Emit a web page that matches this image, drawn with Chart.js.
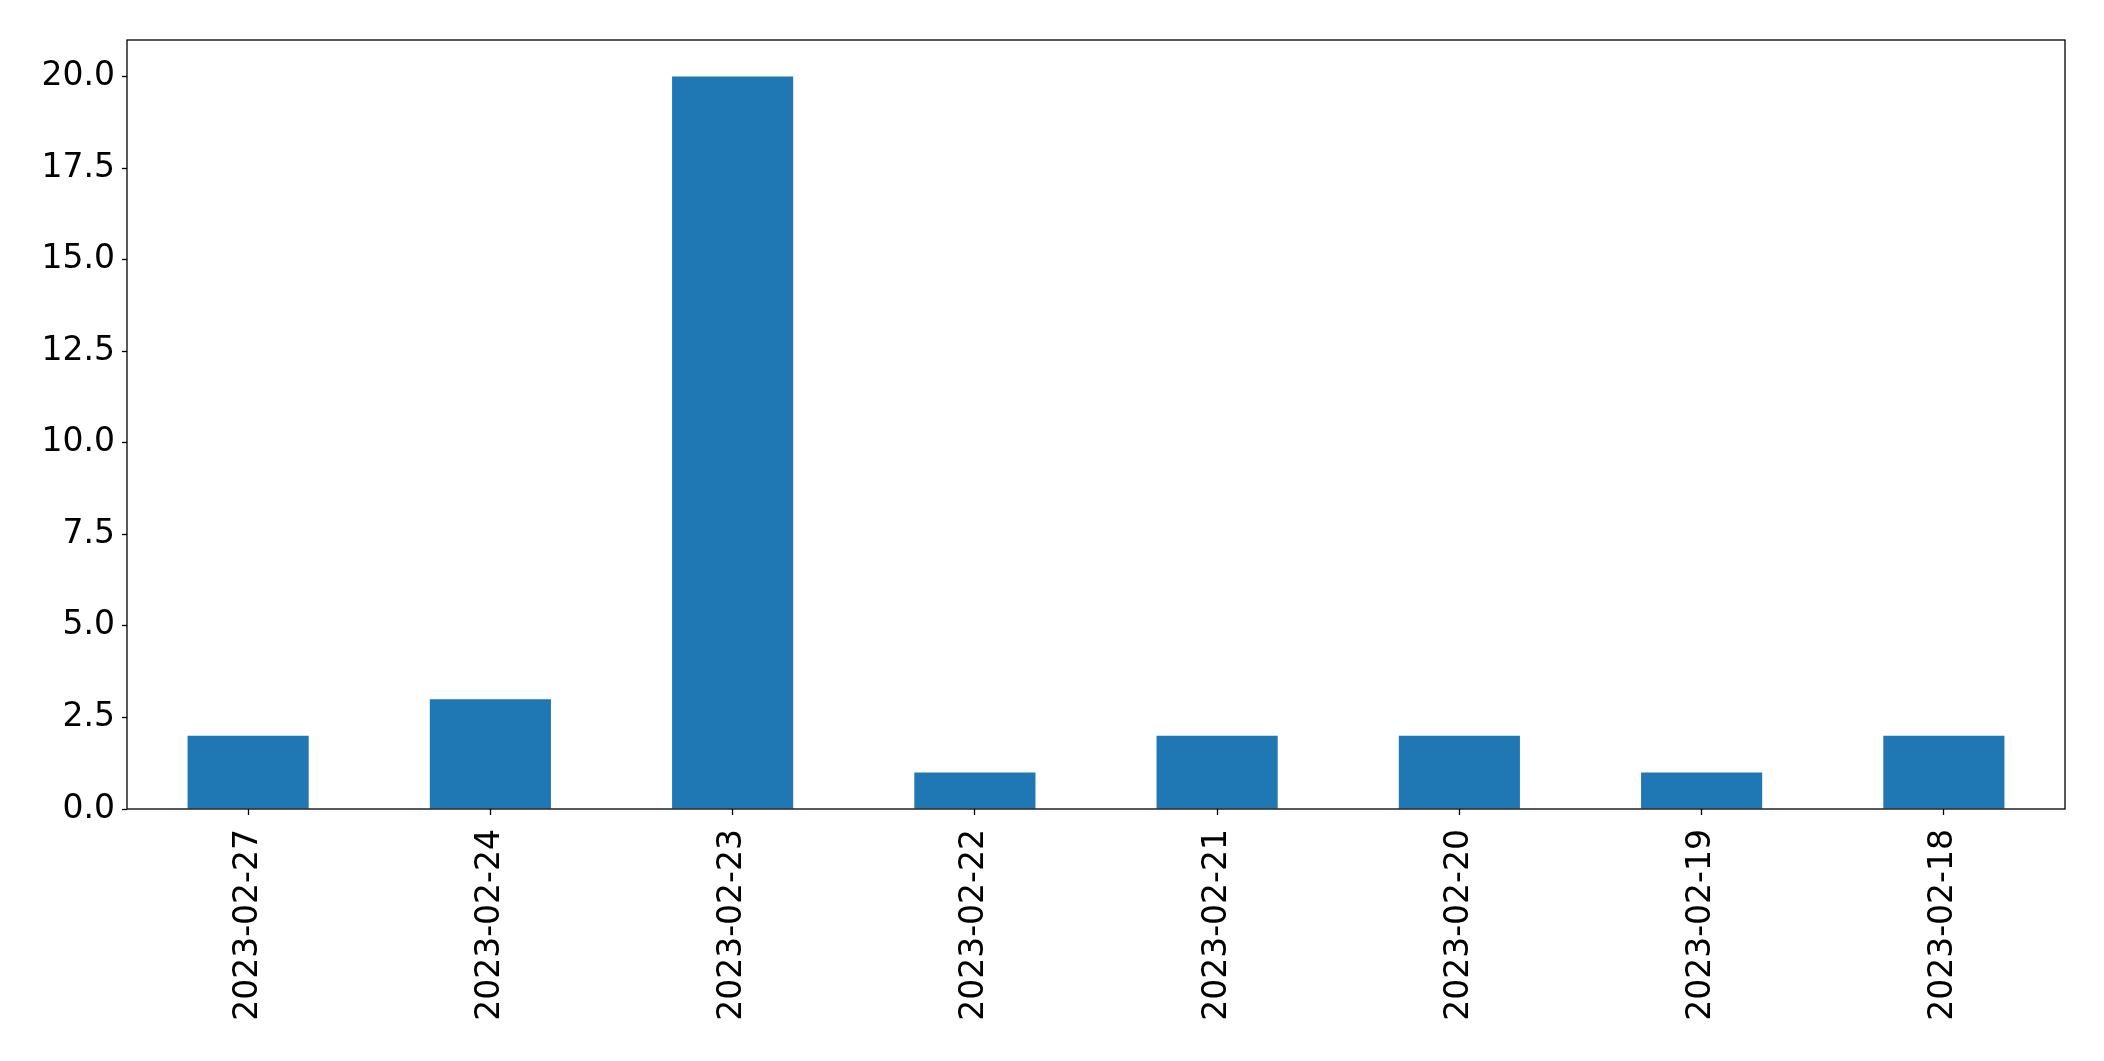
<!DOCTYPE html>
<html>
<head>
<meta charset="utf-8">
<script src="https://cdn.jsdelivr.net/npm/chart.js@4/dist/chart.umd.min.js"></script>
<style>
  body { margin: 0; background: #fff; }
  #wrap { width: 2104px; height: 1061px; }
</style>
</head>
<body>
<div id="wrap"><canvas id="chart" width="2104" height="1061"></canvas></div>
<script>
const dates = ["2023-02-27", "2023-02-24", "2023-02-23", "2023-02-22", "2023-02-21", "2023-02-20", "2023-02-19", "2023-02-18"];
const counts = [2, 3, 20, 1, 2, 2, 1, 2];
const yMin = 0;
const yMax = 21;
const yStep = 2.5;

// box around the plot area, like matplotlib spines
const frame = {
    id: "frame",
    afterDraw(chart) {
        const a = chart.chartArea;
        const ctx = chart.ctx;
        ctx.save();
        ctx.strokeStyle = "#000";
        ctx.lineWidth = 1.3;
        ctx.strokeRect(a.left, a.top, a.right - a.left, a.bottom - a.top);
        ctx.restore();
    }
};

const font = { family: "'DejaVu Sans', sans-serif", size: 33 };

new Chart(document.getElementById("chart").getContext("2d"), {
    type: "bar",
    data: {
        labels: dates,
        datasets: [{
            data: counts,
            backgroundColor: "#1f77b4",
            barPercentage: 0.5,
            categoryPercentage: 1.0
        }]
    },
    options: {
        responsive: false,
        animation: false,
        layout: { padding: { top: 40, right: 39, left: 0, bottom: 0 } },
        plugins: { legend: { display: false }, tooltip: { enabled: false } },
        scales: {
            x: {
                grid: { offset: false, drawOnChartArea: false, drawTicks: true, tickLength: 6, color: "#000", tickWidth: 1.3 },
                border: { display: false },
                ticks: { color: "#000", font: font, minRotation: 90, maxRotation: 90, autoSkip: false, padding: 14 },
                afterFit(scale) { scale.height = 252; }
            },
            y: {
                min: yMin,
                max: yMax,
                grid: { drawOnChartArea: false, drawTicks: true, tickLength: 5, color: "#000", tickWidth: 1.3 },
                border: { display: false },
                ticks: {
                    color: "#000",
                    font: font,
                    stepSize: yStep,
                    includeBounds: false,
                    padding: 7,
                    callback: v => v.toFixed(1)
                },
                afterFit(scale) { scale.width = 127; }
            }
        }
    },
    plugins: [frame]
});
</script>
</body>
</html>
